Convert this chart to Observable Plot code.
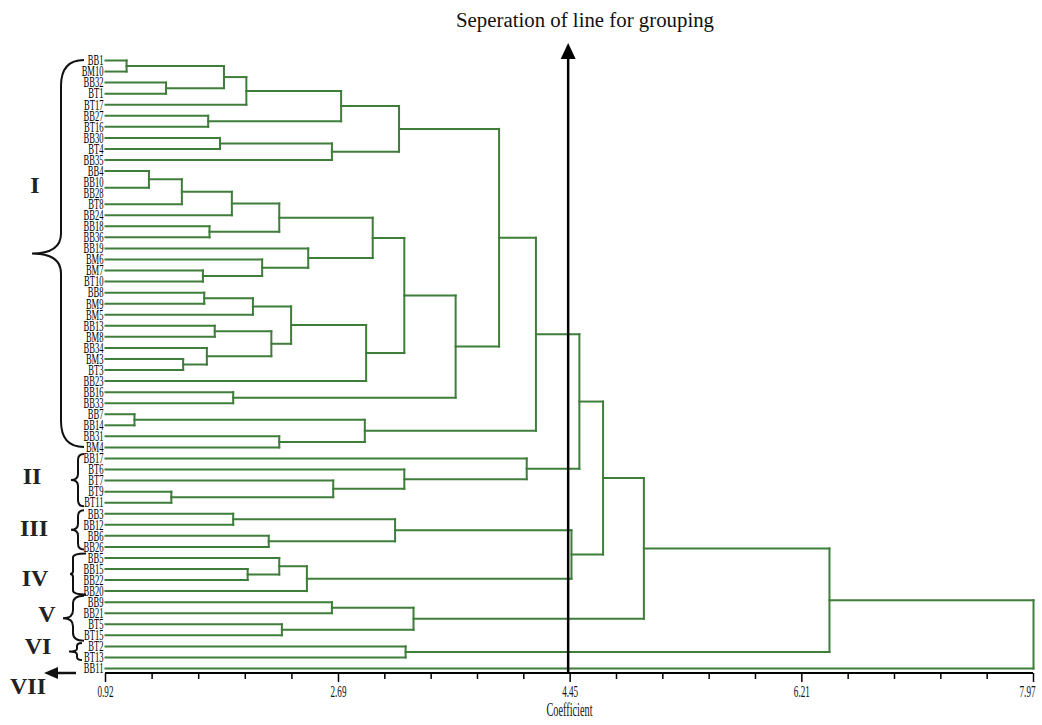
<!DOCTYPE html>
<html><head><meta charset="utf-8">
<script src="https://cdn.jsdelivr.net/npm/d3@7"></script>
<script src="https://cdn.jsdelivr.net/npm/@observablehq/plot@0.6"></script>
<style>body{margin:0;background:#fff}#chart{width:1042px;height:725px}</style>
</head><body><div id="chart"></div>
<script>
// ---------- DATA ----------
const leaves = ["BB1","BM10","BB32","BT1","BT17","BB27","BT16","BB30","BT4","BB35",
  "BB4","BB10","BB28","BT8","BB24","BB18","BB36","BB19","BM6","BM7","BT10",
  "BB8","BM9","BM5","BB13","BM8","BB34","BM3","BT3","BB23","BB16","BB33",
  "BB7","BB14","BB31","BM4","BB17","BT6","BT7","BT9","BT11","BB3","BB12","BB6","BB26",
  "BB5","BB15","BB22","BB20","BB9","BB21","BT5","BT15","BT2","BT13","BB11"];
// merge steps: [childA, childB, coefficient]; "#k" = result of k-th merge (1-based)
const merges = [
  ["BB1","BM10",1.08], ["BB32","BT1",1.38], ["#1","#2",1.82], ["#3","BT17",1.99],
  ["BB27","BT16",1.70], ["#4","#5",2.71], ["BB30","BT4",1.79], ["#7","BB35",2.64],
  ["#6","#8",3.15], ["BB10","BB28",0.92], ["BB4","#10",1.25], ["#11","BT8",1.50],
  ["#12","BB24",1.88], ["BB18","BB36",1.71], ["#13","#14",2.24], ["BM7","BT10",1.66],
  ["BM6","#16",2.11], ["BB19","#17",2.46], ["#15","#18",2.95], ["BB8","BM9",1.67],
  ["#20","BM5",2.04], ["BB13","BM8",1.75], ["BM3","BT3",1.51], ["BB34","#23",1.69],
  ["#22","#24",2.18], ["#21","#25",2.33], ["#26","BB23",2.90], ["#19","#27",3.19],
  ["BB16","BB33",1.89], ["#28","#29",3.58], ["#9","#30",3.91], ["BB7","BB14",1.14],
  ["BB31","BM4",2.24], ["#32","#33",2.89], ["#31","#34",4.19], ["BT9","BT11",1.42],
  ["BT7","#36",2.65], ["BT6","#37",3.19], ["BB17","#38",4.12], ["#35","#39",4.52],
  ["BB3","BB12",1.89], ["BB6","BB26",2.16], ["#41","#42",3.12], ["BB15","BB22",2.00],
  ["BB5","#44",2.24], ["#45","BB20",2.45], ["#43","#46",4.46], ["#40","#47",4.70],
  ["BB9","BB21",2.64], ["BT5","BT15",2.26], ["#49","#50",3.26], ["#48","#51",5.01],
  ["BT2","BT13",3.20], ["#52","#53",6.42], ["#54","BB11",7.97]
];
const majorTicks = [0.92, 2.69, 4.45, 6.21, 7.97];
const cutoff = 4.45;
const groupNames = ["I","II","III","IV","V","VI","VII"];
const groupFirst = ["BB1","BB17","BB3","BB5","BB9","BT2","BB11"];
const groupLast  = ["BM4","BT11","BB26","BB20","BT15","BT13","BB11"];
const titleText = "Seperation of line for grouping";
const xLabel = "Coefficient";

// ---------- BUILD ----------
const xDomain = [majorTicks[0], majorTicks[majorTicks.length - 1]];
const minorTicks = majorTicks.slice(1).flatMap((b, i) => {
  const a = majorTicks[i];
  return [1, 2, 3, 4].map(k => a + (b - a) * k / 5);
});
const leafIndex = new Map(leaves.map((d, i) => [d, i]));
const nodes = [];
const pos = ref => ref.startsWith("#") ? nodes[+ref.slice(1) - 1] : {x: xDomain[0], y: leafIndex.get(ref)};
const segs = [];
merges.forEach(([a, b, h]) => {
  const A = pos(a), B = pos(b);
  nodes.push({x: h, y: (A.y + B.y) / 2});
  for (const C of [A, B]) if (h > C.x) segs.push({x1: C.x, y1: C.y, x2: h, y2: C.y});
  if (h > xDomain[0]) segs.push({x1: h, y1: A.y, x2: h, y2: B.y});
});

const green = "#3f7d3a";
const serif = "'Liberation Serif','Times New Roman',serif";
const tickLabel = d => d.toFixed(2);

const plot = Plot.plot({
  width: 1042, height: 725,
  marginLeft: 105, marginRight: 9, marginTop: 45, marginBottom: 52,
  x: {domain: xDomain, label: null},
  y: {type: "linear", domain: [0, leaves.length - 1], range: [60, 668], axis: null},
  style: {fontFamily: serif, background: "#fff", overflow: "visible", color: "#000"},
  marks: [
    Plot.link(segs, {x1: "x1", y1: "y1", x2: "x2", y2: "y2", stroke: green, strokeWidth: 2, strokeLinecap: "square"}),
    Plot.text(leaves, {x: () => xDomain[0], y: (d, i) => i, text: d => d, textAnchor: "end", dx: -2,
      fontSize: 15, fill: "#000"}),
    Plot.axisX(minorTicks, {tickSize: 6, strokeWidth: 1.5, tickFormat: () => "", label: null}),
    Plot.axisX(majorTicks, {tickSize: 9, strokeWidth: 1.5, tickPadding: 3, fontSize: 16,
      tickFormat: tickLabel, label: null}),
    Plot.text([xLabel], {frameAnchor: "bottom", dy: 42, fontSize: 18, fill: "#111"})
  ]
});
document.getElementById("chart").append(plot);

const svg = d3.select(plot);
const majorLabels = new Set(majorTicks.map(tickLabel));
const tickTexts = svg.selectAll("text").filter(function () { return majorLabels.has(this.textContent.trim()); });
tickTexts.style("font-size", "16px").attr("fill", "#111");
// condensed serif look
svg.selectAll("text").each(function () {
  const len = this.getComputedTextLength();
  if (len > 0) { this.setAttribute("textLength", len * 0.57); this.setAttribute("lengthAdjust", "spacingAndGlyphs"); }
});
// keep last tick label inside the picture
tickTexts.filter(function () { return this.textContent.trim() === tickLabel(xDomain[1]); })
  .attr("text-anchor", "end").attr("dx", 2);

const xs = plot.scale("x"), ys = plot.scale("y");
const X = v => xs.apply(v), Y = v => ys.apply(v);
const bottom = 725 - 52;
const ann = svg.append("g");

// axis baseline
ann.append("line").attr("x1", X(xDomain[0])).attr("x2", X(xDomain[1]))
  .attr("y1", bottom).attr("y2", bottom).attr("stroke", "#000").attr("stroke-width", 2);

// cutoff arrow
const cx = X(cutoff) - 1.5;
ann.append("line").attr("x1", cx).attr("x2", cx).attr("y1", bottom).attr("y2", 56)
  .attr("stroke", "#000").attr("stroke-width", 2.5);
ann.append("path").attr("d", `M${cx},43 L${cx - 7.5},59 L${cx + 7.5},59 Z`).attr("fill", "#000");

// title
ann.append("text").attr("x", 585).attr("y", 27).attr("text-anchor", "middle")
  .attr("font-family", serif).attr("font-size", 20).attr("fill", "#111")
  .attr("textLength", 258).attr("lengthAdjust", "spacingAndGlyphs").text(titleText);

// braces
function brace(xe, xsp, xt, y0, y1, r, rt) {
  const yt = (y0 + y1) / 2;
  return `M${xe},${y0} Q${xsp},${y0} ${xsp},${y0 + r} L${xsp},${yt - rt} Q${xsp},${yt} ${xt},${yt} ` +
         `Q${xsp},${yt} ${xsp},${yt + rt} L${xsp},${y1 - r} Q${xsp},${y1} ${xe},${y1}`;
}
const braceStyle = [
  {xe: 84, xs: 61, xt: 32, pad: 0, r: 26, rt: 20},
  {xe: 84, xs: 78, xt: 71, pad: 4, r: 6, rt: 6},
  {xe: 84, xs: 78, xt: 71, pad: 3, r: 6, rt: 6},
  {xe: 86, xs: 73, xt: 70, pad: 4, r: 4, rt: 3},
  {xe: 84, xs: 73, xt: 63, pad: 6, r: 8, rt: 8},
  {xe: 82, xs: 77, xt: 69, pad: 3, r: 3, rt: 3}
];
braceStyle.forEach((s, i) => {
  const y0 = Y(leafIndex.get(groupFirst[i])) - s.pad, y1 = Y(leafIndex.get(groupLast[i])) + s.pad;
  ann.append("path").attr("d", brace(s.xe, s.xs, s.xt, y0, y1, s.r, s.rt))
    .attr("fill", "none").attr("stroke", "#111").attr("stroke-width", 2);
});
// VII arrow
const y7 = Y(leafIndex.get(groupFirst[6])) + 5;
ann.append("line").attr("x1", 76).attr("x2", 54).attr("y1", y7).attr("y2", y7)
  .attr("stroke", "#111").attr("stroke-width", 2.5);
ann.append("path").attr("d", `M44,${y7} L58,${y7 - 6} L58,${y7 + 6} Z`).attr("fill", "#111");

// numerals
const numeralPos = [[35, 185], [32, 476], [34, 528], [35, 578], [47, 614], [38, 646], [28, 686]];
groupNames.forEach((g, i) => {
  ann.append("text").attr("x", numeralPos[i][0]).attr("y", numeralPos[i][1]).attr("dy", "0.35em")
    .attr("text-anchor", "middle").attr("font-family", serif).attr("font-weight", "bold")
    .attr("font-size", 24).attr("fill", "#222").text(g);
});
</script>
</body></html>
